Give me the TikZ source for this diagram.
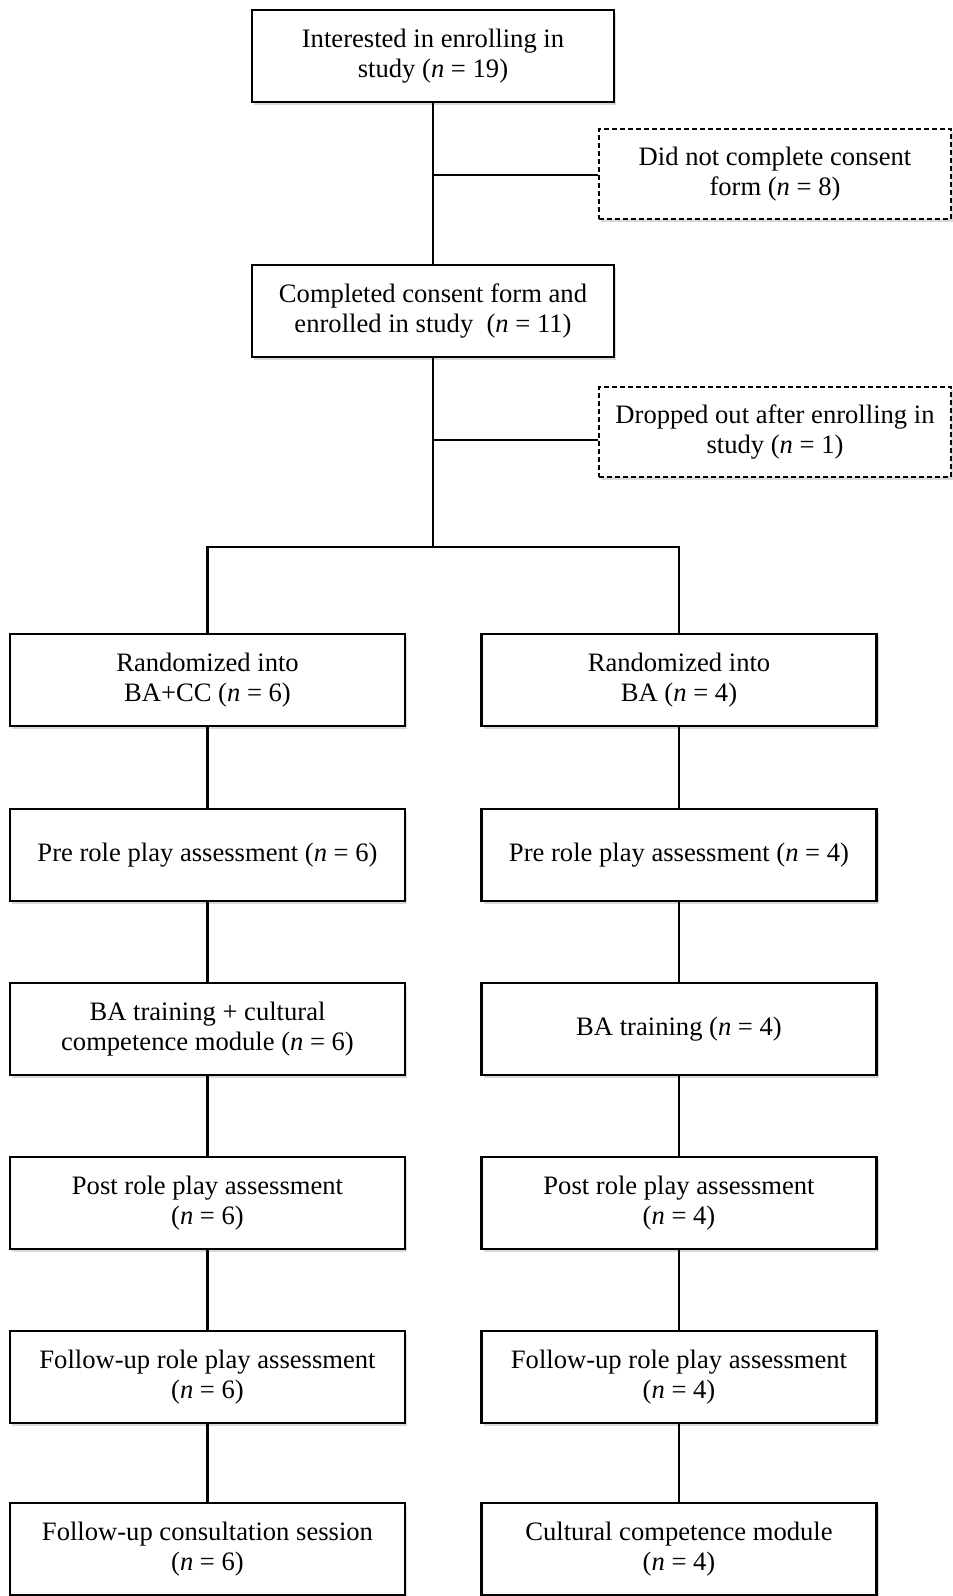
\documentclass[tikz,border=0pt]{standalone}
\usepackage{fontspec}
\setmainfont{Liberation Serif}
\usetikzlibrary{shadows}

\begin{document}
\begin{tikzpicture}[x=0.5pt,y=-0.5pt,
    txt/.style={align=center,font=\fontsize{13.3}{15.3}\selectfont,inner sep=2pt,fill=white},
    box/.style={txt,draw,line width=1.1pt,minimum width=181pt,minimum height=46pt,
      drop shadow={shadow xshift=1pt,shadow yshift=-1.5pt,opacity=.3}},
    armbox/.style={box,minimum width=197.5pt},
    outbox/.style={txt,draw,line width=.7pt,dash pattern=on 2.5pt off 1.5pt,minimum width=176pt,minimum height=45pt,
      drop shadow={shadow xshift=1pt,shadow yshift=-1.5pt,opacity=.3}},
    link/.style={line width=1.3pt}]
  \useasboundingbox (0,0) rectangle (953,1596);
  \node[box] (interest) at (433,56) {Interested in enrolling in\\study (\textit{n} = 19)};
  \node[box] (enrolled) at (433,311) {Completed consent form and\\enrolled in study\ \ (\textit{n} = 11)};
  \node[outbox] (noconsent) at (775,174) {Did not complete consent\\form (\textit{n} = 8)};
  \node[outbox] (dropped) at (775,432) {Dropped out after enrolling in\\study (\textit{n} = 1)};
  \coordinate (j1) at (433,175);
  \coordinate (j2) at (433,440);
  \coordinate (split) at (433,547);
  % two arms
  \foreach \i/\y/\lt/\rt in {1/680/{Randomized into\\BA+CC (\textit{n} = 6)}/{Randomized into\\BA (\textit{n} = 4)},
      2/855/{Pre role play assessment (\textit{n} = 6)}/{Pre role play assessment (\textit{n} = 4)},
      3/1029/{BA training + cultural\\competence module (\textit{n} = 6)}/{BA training (\textit{n} = 4)},
      4/1203/{Post role play assessment\\(\textit{n} = 6)}/{Post role play assessment\\(\textit{n} = 4)},
      5/1377/{Follow-up role play assessment\\(\textit{n} = 6)}/{Follow-up role play assessment\\(\textit{n} = 4)},
      6/1549/{Follow-up consultation session\\(\textit{n} = 6)}/{Cultural competence module\\(\textit{n} = 4)}} {
    \node[armbox] (l\i) at (207.5,\y) {\lt};
    \node[armbox] (r\i) at (679,\y) {\rt};
  }
  \draw[link] (interest) -- (enrolled);
  \draw[link] (j1) -- (j1 -| noconsent.west);
  \draw[link] (enrolled) -- (split);
  \draw[link] (j2) -- (j2 -| dropped.west);
  \draw[link] (l1.north) |- (split) -| (r1.north);
  \foreach \i [count=\j from 2] in {1,...,5} {
    \draw[link] (l\i) -- (l\j);
    \draw[link] (r\i) -- (r\j);
  }
\end{tikzpicture}
\end{document}
